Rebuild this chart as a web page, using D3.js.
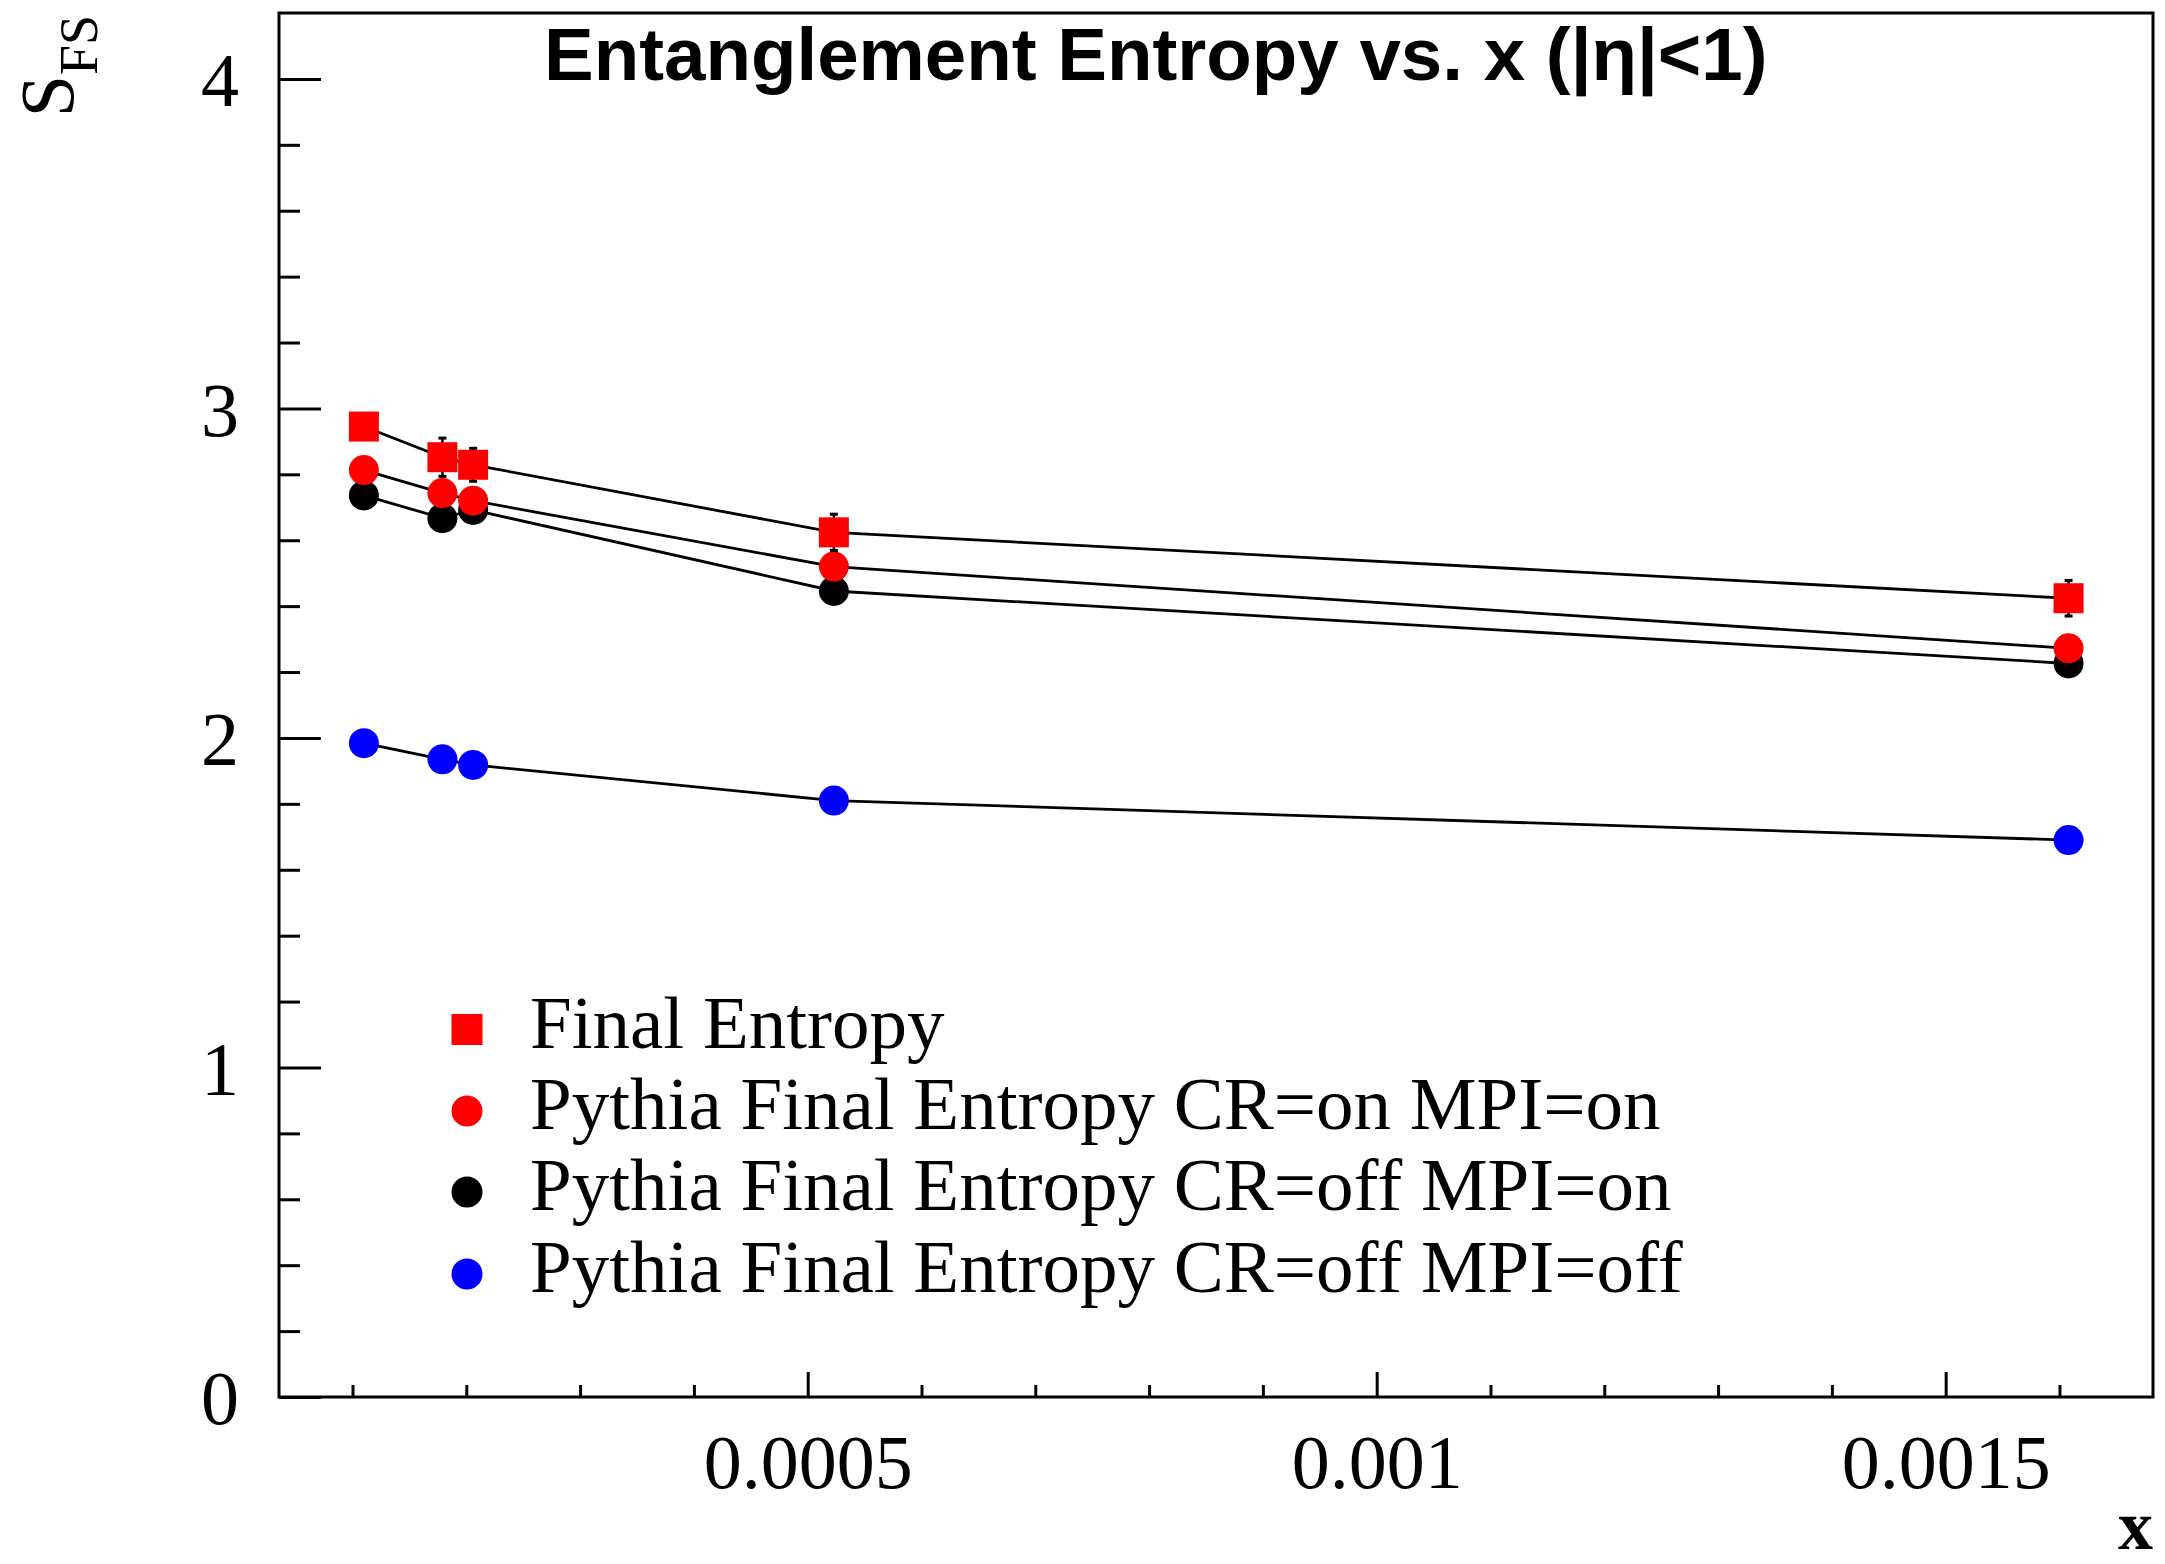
<!DOCTYPE html>
<html>
<head>
<meta charset="utf-8">
<script src="https://cdn.jsdelivr.net/npm/d3@7"></script>
<style>
  html, body { margin: 0; padding: 0; background: #fff; }
  svg { display: block; }
</style>
</head>
<body>
<script>
// ---------- data ----------
const xValues = [0.000110, 0.000179, 0.000206, 0.000523, 0.001608];
const finalEntropy = [2.945, 2.852, 2.829, 2.624, 2.424];
const finalEntropyErr = [0.027, 0.058, 0.050, 0.055, 0.054];
const pythiaCRonMPIon = [2.813, 2.743, 2.720, 2.520, 2.272];
const pythiaCRoffMPIon = [2.736, 2.667, 2.692, 2.446, 2.226];
const pythiaCRoffMPIoff = [1.984, 1.935, 1.918, 1.810, 1.690];
const seriesNames = [
  "Final Entropy",
  "Pythia Final Entropy CR=on MPI=on",
  "Pythia Final Entropy CR=off MPI=on",
  "Pythia Final Entropy CR=off MPI=off"
];
const seriesColors = ["#ff0000", "#ff0000", "#000000", "#0000ff"];
const seriesShapes = ["square", "circle", "circle", "circle"];
const xMajorTicks = [0.0005, 0.001, 0.0015];
const xTickLabels = ["0.0005", "0.001", "0.0015"];
const yMajorTicks = [0, 1, 2, 3, 4];
const yTickLabels = ["0", "1", "2", "3", "4"];
const xDomain = [0.0000354, 0.0016822];
const yDomain = [0, 4.2];
const titleText = "Entanglement Entropy vs. x (|\u03B7|<1)";

// ---------- layout ----------
const W = 2165, H = 1564;
const L = 279, R = 2153, T = 13, B = 1397;
const serif = "'Liberation Serif', 'Times New Roman', serif";
const sans = "'Liberation Sans', Arial, Helvetica, sans-serif";

const svg = d3.select("body").append("svg")
  .attr("width", W).attr("height", H)
  .style("background", "#fff");

const x = d3.scaleLinear().domain(xDomain).range([L, R]);
const y = d3.scaleLinear().domain(yDomain).range([B, T]);

// frame
svg.append("rect")
  .attr("x", L).attr("y", T).attr("width", R - L).attr("height", B - T)
  .attr("fill", "none").attr("stroke", "#000").attr("stroke-width", 3);

// x axis ticks
const xMinor = d3.range(1, 17).map(i => i * 0.0001).filter(v => !xMajorTicks.some(m => Math.abs(m - v) < 1e-9));
const xAxisMajor = d3.axisBottom(x).tickValues(xMajorTicks).tickSize(-25).tickFormat((d, i) => xTickLabels[i]);
const xAxisMinor = d3.axisBottom(x).tickValues(xMinor).tickSize(-12).tickFormat("");
const gxMin = svg.append("g").attr("transform", `translate(0,${B})`).call(xAxisMinor);
const gxMaj = svg.append("g").attr("transform", `translate(0,${B})`).call(xAxisMajor);
[gxMin, gxMaj].forEach(g => {
  g.select(".domain").remove();
  g.selectAll("line").attr("stroke", "#000").attr("stroke-width", 3);
});
gxMaj.selectAll("text")
  .attr("y", 0).attr("dy", null)
  .attr("transform", "translate(0,91)")
  .attr("font-family", serif).attr("font-size", 76).attr("fill", "#000");

// y axis ticks
const yMinor = d3.range(1, 21).map(i => +(i * 0.2).toFixed(2)).filter(v => Math.abs(v - Math.round(v)) > 1e-6);
const yAxisMajor = d3.axisLeft(y).tickValues(yMajorTicks).tickSize(-42).tickFormat((d, i) => yTickLabels[i]);
const yAxisMinor = d3.axisLeft(y).tickValues(yMinor).tickSize(-21).tickFormat("");
const gyMin = svg.append("g").attr("transform", `translate(${L},0)`).call(yAxisMinor);
const gyMaj = svg.append("g").attr("transform", `translate(${L},0)`).call(yAxisMajor);
[gyMin, gyMaj].forEach(g => {
  g.select(".domain").remove();
  g.selectAll("line").attr("stroke", "#000").attr("stroke-width", 3);
});
gyMaj.selectAll("text")
  .attr("x", -40).attr("dy", "0.35em")
  .attr("font-family", serif).attr("font-size", 76).attr("fill", "#000");

// axis titles
svg.append("text")
  .attr("x", R).attr("y", 1549)
  .attr("text-anchor", "end")
  .attr("font-family", serif).attr("font-weight", "bold").attr("font-size", 70).attr("fill", "#000")
  .text("x");

const yt = svg.append("text")
  .attr("transform", `translate(73,15) rotate(-90)`)
  .attr("text-anchor", "end")
  .attr("font-family", serif).attr("font-size", 76).attr("fill", "#000");
yt.append("tspan").text("S");
yt.append("tspan").attr("font-size", 54).attr("dy", 24).text("FS");

// title
svg.append("text")
  .attr("x", 544).attr("y", 80)
  .attr("text-anchor", "start")
  .attr("font-family", sans).attr("font-weight", "bold").attr("font-size", 74.5).attr("fill", "#000")
  .text(titleText);

// ---------- series ----------
const seriesValues = [finalEntropy, pythiaCRonMPIon, pythiaCRoffMPIon, pythiaCRoffMPIoff];
const drawOrder = [3, 2, 1, 0];
const line = d3.line().x(d => x(d[0])).y(d => y(d[1]));
const sq = 30, rad = 15;

drawOrder.forEach(si => {
  const pts = xValues.map((xv, i) => [xv, seriesValues[si][i]]);
  const g = svg.append("g");
  g.append("path").datum(pts)
    .attr("d", line).attr("fill", "none").attr("stroke", "#000").attr("stroke-width", 2.8);
  if (si === 0) {
    // error bars
    const eg = g.append("g");
    pts.forEach((p, i) => {
      const e = finalEntropyErr[i];
      const cx = x(p[0]);
      eg.append("line").attr("x1", cx).attr("x2", cx)
        .attr("y1", y(p[1] - e)).attr("y2", y(p[1] + e))
        .attr("stroke", "#000").attr("stroke-width", 2.5);
      [p[1] - e, p[1] + e].forEach(v => {
        eg.append("line").attr("x1", cx - 4).attr("x2", cx + 4)
          .attr("y1", y(v)).attr("y2", y(v))
          .attr("stroke", "#000").attr("stroke-width", 3);
      });
    });
  }
  if (seriesShapes[si] === "square") {
    g.selectAll("rect.m").data(pts).join("rect")
      .attr("x", d => x(d[0]) - sq / 2).attr("y", d => y(d[1]) - sq / 2)
      .attr("width", sq).attr("height", sq).attr("fill", seriesColors[si]);
  } else {
    g.selectAll("circle.m").data(pts).join("circle")
      .attr("cx", d => x(d[0])).attr("cy", d => y(d[1])).attr("r", rad)
      .attr("fill", seriesColors[si]);
  }
});

// ---------- legend ----------
const legendRowsY = [1029.5, 1111, 1192, 1274];
const lg = svg.append("g");
seriesNames.forEach((name, i) => {
  const cy = legendRowsY[i];
  if (seriesShapes[i] === "square") {
    lg.append("rect").attr("x", 467 - 15.5).attr("y", cy - 15.5).attr("width", 31).attr("height", 31)
      .attr("fill", seriesColors[i]);
  } else {
    lg.append("circle").attr("cx", 467).attr("cy", cy).attr("r", 15.5).attr("fill", seriesColors[i]);
  }
  lg.append("text").attr("x", 530).attr("y", cy + 18)
    .attr("font-family", serif).attr("font-size", 75).attr("fill", "#000")
    .text(name);
});
</script>
</body>
</html>
